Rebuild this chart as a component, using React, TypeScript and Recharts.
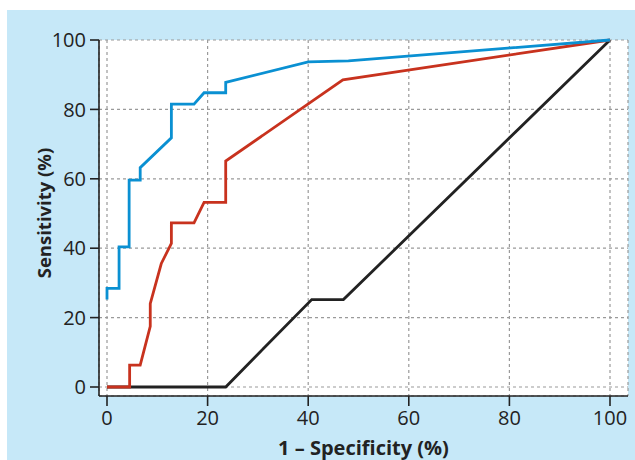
import React from "react";
import { LineChart, Line, XAxis, YAxis, CartesianGrid } from "recharts";

// ROC curves, values (% units)
const blueX = [0, 0, 2.4, 2.4, 4.4, 4.4, 6.6, 6.6, 12.8, 12.8, 17.3, 19.3, 23.6, 23.6, 40, 48, 100];
const blueY = [25.2, 28.4, 28.4, 40.4, 40.4, 59.6, 59.6, 63.2, 71.8, 81.5, 81.5, 84.8, 84.8, 87.8, 93.7, 94, 100];

const redX = [0, 4.5, 4.5, 6.6, 8.6, 8.6, 10.8, 12.8, 12.8, 17.3, 19.3, 23.6, 23.6, 46.9, 100];
const redY = [0, 0, 6.3, 6.3, 17.5, 24, 35.6, 41.4, 47.3, 47.3, 53.2, 53.2, 65.1, 88.5, 100];

const blackX = [0, 23.6, 40.7, 47, 100];
const blackY = [0, 0, 25.2, 25.2, 100];

const ticks = [0, 20, 40, 60, 80, 100];

const toPoints = (xs: number[], ys: number[]) => xs.map((x, i) => ({ x, y: ys[i] }));

const blue = toPoints(blueX, blueY);
const red = toPoints(redX, redY);
const black = toPoints(blackX, blackY);

const font = "'Open Sans', 'Liberation Sans', sans-serif";
const ink = "#222";

function YTitle(props: any) {
  const vb = props.viewBox || { x: 0, y: 30, width: 92, height: 356 };
  const cx = vb.x + 36;
  const cy = vb.y + vb.height / 2 - 5;
  return (
    <text
      x={cx}
      y={cy}
      transform={`rotate(-90 ${cx} ${cy})`}
      textAnchor="middle"
      dominantBaseline="central"
      fill={ink}
      fontFamily={font}
      fontWeight={700}
      fontSize={18.5}
    >
      Sensitivity (%)
    </text>
  );
}

export default function App() {
  return (
    <div style={{ position: "fixed", left: 7, top: 10, width: 628, height: 450, background: "#c6e8f8" }}>
      <LineChart width={628} height={450} margin={{ top: 30, right: 7, bottom: 0, left: 0 }}>
        <CartesianGrid fill="#fff" stroke="#9a9a9a" strokeDasharray="3 3" strokeWidth={1.2} />
        <XAxis
          type="number"
          dataKey="x"
          domain={[0, 100]}
          ticks={ticks}
          padding={{ left: 8, right: 18 }}
          height={64}
          tickSize={10}
          tickMargin={5}
          axisLine={{ stroke: ink, strokeWidth: 1.6 }}
          tickLine={{ stroke: ink, strokeWidth: 1.6 }}
          tick={{ fill: ink, fontSize: 20, fontFamily: font }}
          label={{
            value: "1 – Specificity (%)",
            position: "insideBottom",
            offset: 5,
            style: { fill: ink, fontSize: 20, fontWeight: 700, fontFamily: font },
          }}
        />
        <YAxis
          type="number"
          dataKey="y"
          domain={[0, 100]}
          ticks={ticks}
          padding={{ top: 0, bottom: 9 }}
          width={92}
          tickSize={9}
          tickMargin={4}
          axisLine={{ stroke: ink, strokeWidth: 1.6 }}
          tickLine={{ stroke: ink, strokeWidth: 1.6 }}
          tick={{ fill: ink, fontSize: 20, fontFamily: font }}
          label={<YTitle />}
        />
        <Line data={black} dataKey="y" type="linear" stroke="#222" strokeWidth={2.8} dot={false} isAnimationActive={false} />
        <Line data={red} dataKey="y" type="linear" stroke="#c8321e" strokeWidth={2.8} dot={false} isAnimationActive={false} />
        <Line data={blue} dataKey="y" type="linear" stroke="#0a90d2" strokeWidth={2.8} dot={false} isAnimationActive={false} />
      </LineChart>
    </div>
  );
}
